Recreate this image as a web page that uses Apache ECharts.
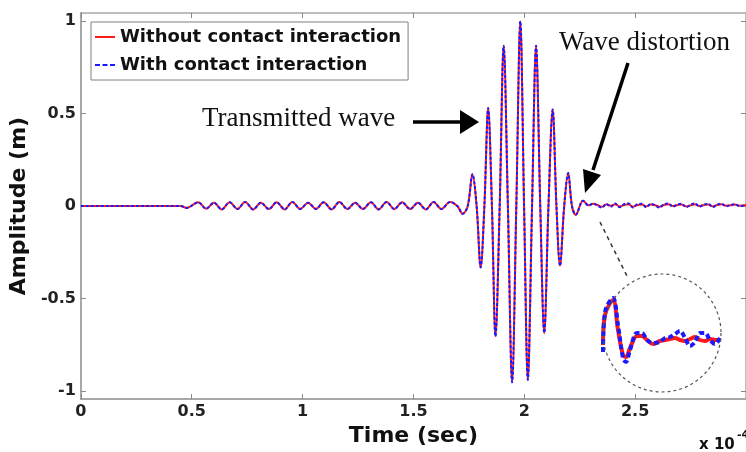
<!DOCTYPE html>
<html>
<head>
<meta charset="utf-8">
<script src="https://cdn.jsdelivr.net/npm/echarts@6/dist/echarts.min.js"></script>
<style>
  html, body { margin: 0; padding: 0; background: #fff; }
  #chart_wave { width: 746px; height: 452px; }
</style>
</head>
<body>
<div id="chart_wave"></div>
<script>
// time is in units of 1e-4 sec
var time_pre = [0, 0.30, 0.45, 0.477, 0.529, 0.565, 0.600, 0.635, 0.671, 0.706, 0.741, 0.777, 0.812, 0.848, 0.883, 0.919, 0.954, 0.989, 1.025, 1.060, 1.095, 1.131, 1.166, 1.202, 1.237, 1.272, 1.308, 1.343, 1.379, 1.414, 1.449, 1.485, 1.520, 1.556, 1.591, 1.626, 1.665];
var amp_pre  = [0, 0, 0, -0.010, 0.020, -0.014, 0.018, -0.018, 0.020, -0.016, 0.022, -0.018, 0.018, -0.016, 0.020, -0.018, 0.022, -0.016, 0.018, -0.016, 0.020, -0.018, 0.022, -0.016, 0.018, -0.016, 0.020, -0.018, 0.022, -0.016, 0.020, -0.016, 0.018, -0.018, 0.022, -0.016, 0.022];

var time_packet = [1.698, 1.722, 1.745, 1.766, 1.785, 1.803, 1.820, 1.837, 1.854, 1.870, 1.889, 1.907, 1.926, 1.945, 1.964, 1.982, 1.999, 2.016, 2.035, 2.053, 2.072, 2.090, 2.109, 2.128, 2.145, 2.161, 2.180, 2.198, 2.215, 2.232, 2.265];
var amp_packet  = [0.0, -0.042, 0.0, 0.172, 0.0, -0.332, 0.0, 0.531, 0.0, -0.705, 0.0, 0.868, 0.0, -0.954, 0.0, 1.0, 0.0, -0.941, 0.0, 0.868, 0.0, -0.687, 0.0, 0.522, 0.0, -0.323, 0.0, 0.179, 0.0, -0.047, 0.029];

var time_tail = [2.29, 2.31, 2.33, 2.35, 2.37, 2.39, 2.41, 2.43, 2.45, 2.47, 2.49, 2.51, 2.53, 2.55, 2.57, 2.59, 2.61, 2.63, 2.65, 2.67, 2.69, 2.71, 2.73, 2.75, 2.77, 2.79, 2.81, 2.83, 2.85, 2.87, 2.89, 2.91, 2.93, 2.95, 2.97, 3.0];
var amp_tail_without = [0.004, 0.012, 0.006, -0.004, 0.008, 0.002, 0.010, -0.002, 0.006, 0.010, -0.004, 0.006, 0.008, -0.002, 0.008, 0.004, -0.004, 0.006, 0.010, 0.0, 0.006, 0.008, -0.002, 0.004, 0.010, 0.0, 0.006, 0.008, -0.002, 0.006, 0.010, 0.002, 0.004, 0.008, 0.002, 0.006];
var amp_tail_with    = [0.002, 0.014, 0.002, -0.008, 0.012, -0.004, 0.014, -0.006, 0.010, 0.014, -0.008, 0.010, 0.012, -0.006, 0.012, 0.004, -0.008, 0.010, 0.014, -0.004, 0.008, 0.012, -0.006, 0.006, 0.014, -0.004, 0.008, 0.012, -0.006, 0.008, 0.012, -0.002, 0.006, 0.010, 0.0, 0.004];

// zoomed view of the distortion (inset circle), amplitude magnified
var inset_time = [2.215, 2.221, 2.245, 2.260, 2.275, 2.284, 2.296, 2.317, 2.332, 2.347, 2.365, 2.386, 2.401, 2.416, 2.431, 2.446, 2.461, 2.476, 2.491, 2.506, 2.521, 2.536, 2.551, 2.566];
var inset_without = [-0.06, 0.24, 0.39, 0.09, -0.16, -0.18, -0.09, 0.03, 0.03, -0.01, -0.05, -0.02, -0.01, 0.0, 0.01, -0.01, -0.02, 0.0, 0.02, -0.01, -0.02, 0.0, -0.01, -0.01];
var inset_with    = [-0.13, 0.27, 0.41, 0.14, -0.19, -0.23, -0.11, 0.06, 0.06, -0.01, -0.04, -0.03, 0.01, 0.02, 0.05, 0.08, 0.01, -0.07, -0.03, 0.06, 0.06, -0.01, -0.05, 0.01];

var y_ticks = [-1, -0.5, 0, 0.5, 1];

function pairs(t, a){
    var out = [];
    for(var i=0;i<t.length;i++){
        out.push([t[i], a[i]]);
    }
    return out;
}

var data_without = pairs(time_pre, amp_pre).concat(pairs(time_packet, amp_packet), pairs(time_tail, amp_tail_without));
var data_with = pairs(time_pre, amp_pre).concat(pairs(time_packet, amp_packet), pairs(time_tail, amp_tail_with));

var font_bold = 'DejaVu Sans';
var axis_gray = '#a8a8a8';
var red = '#ff1a1a', blue = '#1a1aff';

var myChart = echarts.init(document.getElementById('chart_wave'));
var option = {
    animation: false,
    backgroundColor: '#fff',
    grid: [
        { left: 77, top: 13, width: 671, height: 392 },
        { left: 598, top: 280, width: 126, height: 100 }
    ],
    legend: {
        data: [
            { name: 'Without contact interaction', icon: 'path://M0,0h20v2h-20z' },
            { name: 'With contact interaction', icon: 'path://M0,0h5v2h-5z M7.5,0h5v2h-5z M15,0h5v2h-5z' }
        ],
        orient: 'vertical',
        left: 91,
        top: 22,
        padding: [4, 7, 4, 4],
        itemGap: 6,
        itemWidth: 20,
        itemHeight: 2,
        backgroundColor: '#fff',
        borderColor: '#808080',
        borderWidth: 1,
        textStyle: {
            fontFamily: font_bold,
            fontWeight: 'bold',
            fontSize: 18,
            lineHeight: 22,
            color: '#111'
        }
    },
    xAxis: [
        {
            type: 'value', gridIndex: 0, min: 0, max: 3, interval: 0.5,
            name: 'Time (sec)', nameLocation: 'middle', nameGap: 19,
            nameTextStyle: { fontFamily: font_bold, fontWeight: 'bold', fontSize: 22, color: '#111' },
            axisLine: { onZero: false, lineStyle: { color: axis_gray, width: 2 } },
            axisTick: { inside: true, length: 5, lineStyle: { color: '#888' } },
            axisLabel: { showMaxLabel: false, margin: 5, fontFamily: font_bold, fontWeight: 'bold', fontSize: 16, color: '#222' },
            splitLine: { show: false }
        },
        {
            type: 'value', gridIndex: 0, position: 'top', min: 0, max: 3, interval: 0.5,
            axisLine: { onZero: false, lineStyle: { color: axis_gray, width: 1.5 } },
            axisTick: { inside: true, length: 5, lineStyle: { color: '#888' } },
            axisLabel: { show: false },
            splitLine: { show: false }
        },
        {
            type: 'value', gridIndex: 1, min: 2.2, max: 2.578, show: false
        }
    ],
    yAxis: [
        {
            type: 'value', gridIndex: 0, min: -1.045, max: 1.045,
            name: 'Amplitude (m)', nameLocation: 'middle', nameGap: 39,
            nameTextStyle: { fontFamily: font_bold, fontWeight: 'bold', fontSize: 22, color: '#111' },
            axisLine: { onZero: false, lineStyle: { color: axis_gray, width: 2 } },
            axisTick: { inside: true, length: 5, customValues: y_ticks, lineStyle: { color: '#888' } },
            axisLabel: { customValues: y_ticks, margin: 5, fontFamily: font_bold, fontWeight: 'bold', fontSize: 16, color: '#222' },
            splitLine: { show: false }
        },
        {
            type: 'value', gridIndex: 0, position: 'right', min: -1.045, max: 1.045,
            axisLine: { show: true, onZero: false, lineStyle: { color: axis_gray, width: 1.5 } },
            axisTick: { show: true, inside: true, length: 5, customValues: y_ticks, lineStyle: { color: '#888' } },
            axisLabel: { show: false },
            splitLine: { show: false }
        },
        {
            type: 'value', gridIndex: 1, min: -0.41, max: 0.59, show: false
        }
    ],
    series: [
        {
            name: 'Without contact interaction',
            type: 'line',
            xAxisIndex: 0, yAxisIndex: 0,
            symbol: 'none',
            smooth: 0.35,
            lineStyle: { color: red, width: 2 },
            itemStyle: { color: red },
            data: data_without
        },
        {
            name: 'With contact interaction',
            type: 'line',
            xAxisIndex: 0, yAxisIndex: 0,
            symbol: 'none',
            smooth: 0.35,
            lineStyle: { color: blue, width: 2, type: [3, 2] },
            itemStyle: { color: blue },
            data: data_with
        },
        {
            name: 'inset_without',
            type: 'line',
            xAxisIndex: 2, yAxisIndex: 2,
            symbol: 'none',
            smooth: 0.35,
            lineStyle: { color: red, width: 4 },
            data: pairs(inset_time, inset_without)
        },
        {
            name: 'inset_with',
            type: 'line',
            xAxisIndex: 2, yAxisIndex: 2,
            symbol: 'none',
            smooth: 0.35,
            lineStyle: { color: blue, width: 4, type: [5, 3] },
            data: pairs(inset_time, inset_with)
        }
    ],
    graphic: [
        // 放大圈
        { type: 'circle', z: 100, shape: { cx: 662, cy: 333, r: 59 }, style: { fill: null, stroke: '#555', lineWidth: 1.2, lineDash: [3, 3] } },
        { type: 'line', z: 100, shape: { x1: 600, y1: 222, x2: 627, y2: 276 }, style: { stroke: '#333', lineWidth: 1.5, lineDash: [4, 4] } },
        // 标注
        { type: 'text', z: 100, x: 202, y: 119, style: { text: 'Transmitted wave', fontFamily: 'Liberation Serif', fontSize: 27, fill: '#111', align: 'left', verticalAlign: 'middle', textAlign: 'left', textVerticalAlign: 'middle' } },
        { type: 'polyline', z: 100, shape: { points: [[413, 122], [464, 122]] }, style: { stroke: '#000', lineWidth: 3.5, fill: null } },
        { type: 'polygon', z: 100, shape: { points: [[460, 110], [479, 122], [460, 134]] }, style: { fill: '#000' } },
        { type: 'text', z: 100, x: 559, y: 43, style: { text: 'Wave distortion', fontFamily: 'Liberation Serif', fontSize: 27, fill: '#111', align: 'left', verticalAlign: 'middle', textAlign: 'left', textVerticalAlign: 'middle' } },
        { type: 'polyline', z: 100, shape: { points: [[628, 63], [593, 170]] }, style: { stroke: '#000', lineWidth: 3.5, fill: null } },
        { type: 'polygon', z: 100, shape: { points: [[601, 175], [585, 193], [583, 169]] }, style: { fill: '#000' } },
        // x 10^-4
        { type: 'text', z: 100, x: 699, y: 445, style: { text: 'x 10', fontFamily: font_bold, fontWeight: 'bold', fontSize: 15, fill: '#111', align: 'left', verticalAlign: 'middle', textAlign: 'left', textVerticalAlign: 'middle' } },
        { type: 'text', z: 100, x: 737, y: 435, style: { text: '-4', fontFamily: font_bold, fontWeight: 'bold', fontSize: 11, fill: '#111', align: 'left', verticalAlign: 'middle', textAlign: 'left', textVerticalAlign: 'middle' } }
    ]
};
myChart.setOption(option);
</script>
</body>
</html>
